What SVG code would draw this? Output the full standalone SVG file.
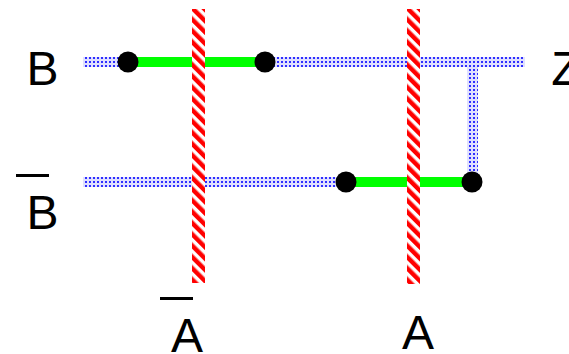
<svg xmlns="http://www.w3.org/2000/svg" width="569" height="354" viewBox="0 0 569 354">
<style>
.lbl{font-family:"Liberation Sans",Arial,sans-serif;font-size:48px;fill:#000;text-anchor:middle}
.bar{stroke:#000;stroke-width:3}
.wire{fill:url(#dots)}
.green{fill:#00ff00}
.red{fill:url(#stripes)}
.dot{fill:#000}
</style>
<defs>
<pattern id="dots" width="4" height="4" patternUnits="userSpaceOnUse">
<rect width="4" height="4" fill="#e0e0ff"/>
<rect x="1" y="1" width="2" height="2" fill="#2f2fff"/>
</pattern>
<pattern id="stripes" width="8" height="8" patternUnits="userSpaceOnUse" patternTransform="rotate(45)">
<rect width="8" height="8" fill="#ff0000"/>
<rect width="8" height="3.5" fill="#ffffff"/>
</pattern>
</defs>
<g id="connectors">
<rect class="wire" x="83" y="57" width="442" height="10"/>
<rect class="wire" x="83" y="177" width="263" height="10"/>
<rect class="wire" x="467" y="62" width="11" height="120"/>
<rect class="green" x="128" y="57" width="137" height="10"/>
<rect class="green" x="346" y="177" width="126" height="10"/>
</g>
<g id="lineA1"><rect class="red" x="192" y="9" width="13" height="274"/></g>
<g id="lineA2"><rect class="red" x="407" y="9" width="13" height="275"/></g>
<g id="contacts">
<circle class="dot" cx="128" cy="62" r="10.5"/>
<circle class="dot" cx="265" cy="62" r="10.5"/>
<circle class="dot" cx="346" cy="182" r="10.5"/>
<circle class="dot" cx="472" cy="182" r="10.5"/>
</g>
<g id="labelB"><text class="lbl" x="42.5" y="85">B</text></g>
<g id="labelZ"><text class="lbl" x="566" y="85">Z</text></g>
<g id="labelNotB"><line class="bar" x1="16" y1="175.5" x2="49" y2="175.5"/><text class="lbl" x="42.5" y="229">B</text></g>
<g id="labelNotA"><line class="bar" x1="160" y1="298.5" x2="193" y2="298.5"/><text class="lbl" x="187" y="352">A</text></g>
<g id="labelA"><text class="lbl" x="418" y="349">A</text></g>
</svg>
